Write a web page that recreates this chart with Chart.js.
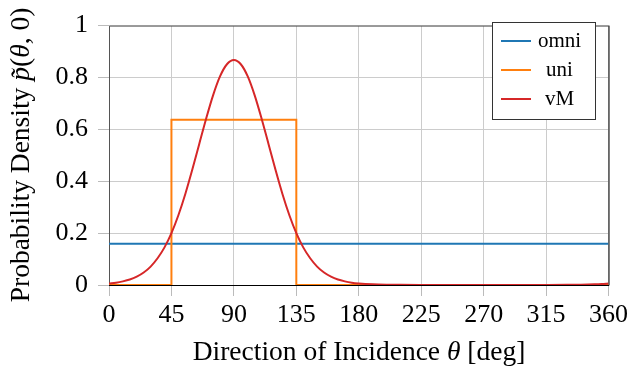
<!DOCTYPE html>
<html>
<head>
<meta charset="utf-8">
<script src="https://cdn.jsdelivr.net/npm/chart.js@4"></script>
<style>
  html, body { margin: 0; padding: 0; background: #fff; }
  #wrap { width: 632px; height: 372px; }
</style>
</head>
<body>
<div id="wrap"><canvas id="chart" width="632" height="372"></canvas></div>
<script>
// values
const seriesNames = ["omni", "uni", "vM"];
const seriesColors = ["#1f77b4", "#ff7f0e", "#d62728"];

const thetaOmni = [0, 360];
const pOmni = [0.159, 0.159];

const thetaUni = [0, 45, 45, 135, 135, 360];
const pUni = [0, 0, 0.637, 0.637, 0, 0];

const thetaVM = [0, 5, 10, 15, 20, 25, 30, 35, 40, 45, 50, 55, 60, 65, 70, 75, 80, 85, 90,
                 95, 100, 105, 110, 115, 120, 125, 130, 135, 140, 145, 150, 155, 160, 165, 170, 175, 180,
                 190, 200, 210, 225, 240, 270, 300, 315, 330, 340, 350, 355, 360];
const pVM = [0.006, 0.009, 0.014, 0.021, 0.032, 0.048, 0.071, 0.103, 0.145, 0.200, 0.269, 0.351, 0.444, 0.543, 0.641, 0.731, 0.804, 0.851, 0.867,
             0.851, 0.804, 0.731, 0.641, 0.543, 0.444, 0.351, 0.269, 0.200, 0.145, 0.103, 0.071, 0.048, 0.032, 0.021, 0.014, 0.009, 0.006,
             0.0025, 0.001, 0.0005, 0.0002, 0.0001, 0.00004, 0.0001, 0.0002, 0.0005, 0.001, 0.0025, 0.0038, 0.006];

const xTicks = [0, 45, 90, 135, 180, 225, 270, 315, 360];
const yTicks = [0, 0.2, 0.4, 0.6, 0.8, 1];

const FONT = "'Liberation Serif', 'Times New Roman', serif";

function pts(xs, ys) {
  return xs.map((x, i) => ({ x: x, y: ys[i] }));
}

// draws a line of text made of roman / italic pieces, centred on (cx, cy)
function drawMixed(ctx, parts, cx, cy, size, rotate) {
  ctx.save();
  ctx.translate(cx, cy);
  if (rotate) ctx.rotate(-Math.PI / 2);
  ctx.fillStyle = "#000";
  ctx.textBaseline = "alphabetic";
  ctx.textAlign = "left";
  let total = 0;
  parts.forEach(p => {
    ctx.font = (p[1] ? "italic " : "") + size + "px " + FONT;
    total += ctx.measureText(p[0]).width;
  });
  let x = -total / 2;
  parts.forEach(p => {
    ctx.font = (p[1] ? "italic " : "") + size + "px " + FONT;
    ctx.fillText(p[0], x, 0);
    x += ctx.measureText(p[0]).width;
  });
  ctx.restore();
}

const framePlugin = {
  id: "frame",
  beforeDatasetsDraw(chart) {
    const a = chart.chartArea, ctx = chart.ctx;
    ctx.save();
    ctx.lineWidth = 1;
    ctx.strokeStyle = "#555";
    ctx.beginPath();
    ctx.moveTo(a.left + 0.5, a.bottom);
    ctx.lineTo(a.left + 0.5, a.top + 0.5);
    ctx.lineTo(a.right, a.top + 0.5);
    ctx.stroke();
    ctx.strokeStyle = "#000";
    ctx.beginPath();
    ctx.moveTo(a.right + 0.5, a.top);
    ctx.lineTo(a.right + 0.5, a.bottom + 0.5);
    ctx.lineTo(a.left, a.bottom + 0.5);
    ctx.stroke();
    ctx.restore();
  },
  afterDraw(chart) {
    const ctx = chart.ctx;
    // axis titles
    drawMixed(ctx, [["Direction of Incidence ", false], ["θ", true], [" [deg]", false]], 359, 360, 27.5, false);
    drawMixed(ctx, [["Probability Density ", false], ["p̃", true], ["(", false], ["θ", true], [", 0)", false]], 29, 155, 27.5, true);

    // legend box
    const bx = 492, by = 22, bw = 103, bh = 97;
    ctx.save();
    ctx.fillStyle = "#fff";
    ctx.fillRect(bx, by, bw, bh);
    ctx.strokeStyle = "#333";
    ctx.lineWidth = 1;
    ctx.strokeRect(bx + 0.5, by + 0.5, bw, bh);
    ctx.font = "21px " + FONT;
    ctx.textAlign = "center";
    ctx.textBaseline = "middle";
    seriesNames.forEach((name, i) => {
      const y = 41 + i * 29;
      ctx.strokeStyle = seriesColors[i];
      ctx.lineWidth = 2;
      ctx.beginPath();
      ctx.moveTo(501, y);
      ctx.lineTo(531, y);
      ctx.stroke();
      ctx.fillStyle = "#000";
      ctx.fillText(name, 559.5, y);
    });
    ctx.restore();
  }
};

new Chart(document.getElementById("chart"), {
  type: "line",
  data: {
    datasets: [
      { label: seriesNames[0], data: pts(thetaOmni, pOmni), borderColor: seriesColors[0], borderWidth: 2, pointRadius: 0, tension: 0, order: 3 },
      { label: seriesNames[1], data: pts(thetaUni, pUni), borderColor: seriesColors[1], borderWidth: 2, pointRadius: 0, tension: 0, order: 2 },
      { label: seriesNames[2], data: pts(thetaVM, pVM), borderColor: seriesColors[2], borderWidth: 2, pointRadius: 0, cubicInterpolationMode: "monotone", order: 1 }
    ]
  },
  options: {
    responsive: false,
    animation: false,
    layout: { padding: { top: 13, right: 21, left: 0, bottom: 0 } },
    plugins: { legend: { display: false }, tooltip: { enabled: false } },
    scales: {
      x: {
        type: "linear",
        min: 0, max: 360,
        afterBuildTicks: s => { s.ticks = xTicks.map(v => ({ value: v })); },
        afterFit: s => { s.height = 87; },
        grid: { color: "#cccccc", lineWidth: 1, tickLength: 11, tickColor: "#bbbbbb", drawOnChartArea: true },
        border: { display: false },
        ticks: { color: "#000", padding: 4, maxRotation: 0, font: { family: FONT, size: 26 } }
      },
      y: {
        min: 0, max: 1,
        afterBuildTicks: s => { s.ticks = yTicks.map(v => ({ value: v })); },
        afterFit: s => { s.width = 109; },
        grid: { color: "#cccccc", lineWidth: 1, tickLength: 11, tickColor: "#bbbbbb" },
        border: { display: false },
        ticks: { color: "#000", padding: 10, font: { family: FONT, size: 26 }, callback: v => String(v) }
      }
    }
  },
  plugins: [framePlugin]
});
</script>
</body>
</html>
